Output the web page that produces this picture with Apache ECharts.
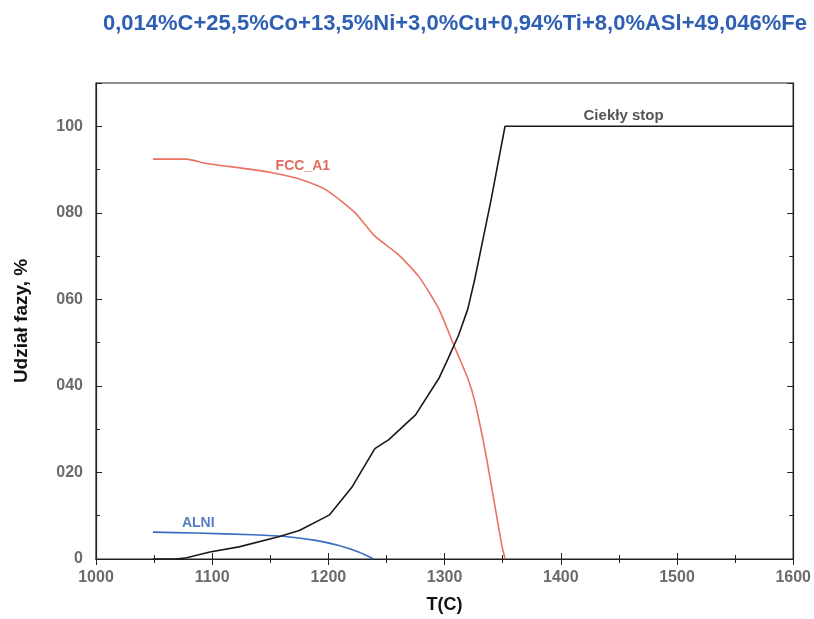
<!DOCTYPE html>
<html><head><meta charset="utf-8">
<script src="https://cdn.jsdelivr.net/npm/echarts@6/dist/echarts.min.js"></script>
<style>html,body{margin:0;padding:0;background:#fff}#c{width:814px;height:619px}</style>
</head><body><div id="c"></div>
<script>
const titleText = '0,014%C+25,5%Co+13,5%Ni+3,0%Cu+0,94%Ti+8,0%ASl+49,046%Fe';
const xName = 'T(C)';
const yName = 'Udział fazy, %';
const yTickValues = [0, 20, 40, 60, 80, 100];
const yTickLabels = ['0', '020', '040', '060', '080', '100'];

const liquidT = [1049, 1069, 1078, 1098, 1123, 1158, 1175, 1201, 1220, 1240, 1252, 1275, 1295, 1303, 1312, 1320, 1326, 1340, 1352, 1600];
const liquidV = [0, 0, 0.3, 1.6, 2.8, 5.2, 6.6, 10.2, 16.5, 25.5, 27.6, 33.3, 41.7, 46.3, 51.7, 57.8, 64.7, 83, 100, 100];

const fccT = [1049, 1078, 1095, 1132, 1155, 1175, 1198, 1223, 1240, 1260, 1278, 1295, 1308, 1320, 1326, 1335, 1343, 1349, 1352];
const fccV = [92.4, 92.4, 91.4, 90.1, 89.1, 87.8, 85.3, 80.0, 74.6, 70.4, 65.2, 57.8, 49.4, 41.7, 36.4, 24.9, 12.7, 3.5, 0];

const alniT = [1049, 1086, 1135, 1163, 1189, 1209, 1226, 1239];
const alniV = [6.2, 6.0, 5.6, 5.2, 4.3, 3.1, 1.6, 0];

const phaseNames = ['Ciekły stop', 'FCC_A1', 'ALNI'];
const phaseLabelT = [1454, 1178, 1088];
const phaseLabelV = [102.3, 90.9, 8.3];
const phaseLabelSize = [15, 14, 14];
const phaseColors = ['#1a1a1a', '#e8735f', '#3a6cc0'];
const labelColors = ['#2a2a2a', '#d9463a', '#2b5cb5'];

const zip = (a, b) => a.map((v, i) => [v, b[i]]);

const chart = echarts.init(document.getElementById('c'), null, {renderer: 'canvas'});
const axisBase = {
  axisLine: {show: true, lineStyle: {color: '#222', width: 1.2}},
  axisTick: {show: true, inside: true, length: 6, lineStyle: {color: '#222'}},
  minorTick: {show: true, splitNumber: 2, length: 4, lineStyle: {color: '#222'}},
  splitLine: {show: false}
};
chart.setOption({
  animation: false,
  title: {
    text: titleText, left: 450, top: 8, textAlign: 'center',
    textStyle: {fontFamily: 'Liberation Sans, Arial', fontWeight: 'bold', fontSize: 22, color: '#2f5fb3'}
  },
  grid: {left: 96, right: 19, top: 83, bottom: 57, show: true, borderColor: '#222', borderWidth: 1.2},
  xAxis: [
    Object.assign({}, axisBase, {
      type: 'value', min: 1000, max: 1600, interval: 100, position: 'bottom',
      name: xName, nameLocation: 'middle', nameGap: 37,
      nameTextStyle: {fontFamily: 'Liberation Sans, Arial', fontWeight: 'bold', fontSize: 18, color: '#111'},
      axisLabel: {fontFamily: 'Liberation Sans, Arial', fontWeight: 'bold', fontSize: 16, color: '#6b6b6b', margin: 11,
        formatter: v => String(v)}
    }),
    Object.assign({}, axisBase, {
      type: 'value', min: 1000, max: 1600, interval: 100, position: 'top',
      axisLabel: {show: false}
    })
  ],
  yAxis: [
    Object.assign({}, axisBase, {
      type: 'value', min: 0, max: 110, interval: 20, position: 'left',
      name: yName, nameLocation: 'middle', nameGap: 65, nameRotate: 90,
      nameTextStyle: {fontFamily: 'Liberation Sans, Arial', fontWeight: 'bold', fontSize: 19, color: '#111'},
      axisLabel: {
        fontFamily: 'Liberation Sans, Arial', fontWeight: 'bold', fontSize: 16, color: '#6b6b6b', margin: 13,
        formatter: v => { const i = yTickValues.indexOf(v); return i >= 0 ? yTickLabels[i] : ''; }
      }
    }),
    Object.assign({}, axisBase, {
      type: 'value', min: 0, max: 110, interval: 20, position: 'right',
      axisLabel: {show: false}
    })
  ],
  series: [
    {type: 'line', data: zip(liquidT, liquidV), showSymbol: false, lineStyle: {color: phaseColors[0], width: 1.6}, z: 3},
    {type: 'line', data: zip(fccT, fccV), showSymbol: false, smooth: 0.2, lineStyle: {color: phaseColors[1], width: 1.6}, z: 2},
    {type: 'line', data: zip(alniT, alniV), showSymbol: false, smooth: 0.2, lineStyle: {color: phaseColors[2], width: 1.6}, z: 2},
    {
      type: 'scatter', symbolSize: 0, z: 5,
      data: phaseNames.map((n, i) => ({
        value: [phaseLabelT[i], phaseLabelV[i]], name: n,
        label: {show: true, position: 'inside', formatter: n, color: labelColors[i],
          fontFamily: 'Liberation Sans, Arial', fontWeight: 'bold', fontSize: phaseLabelSize[i]}
      }))
    }
  ]
});
</script></body></html>
